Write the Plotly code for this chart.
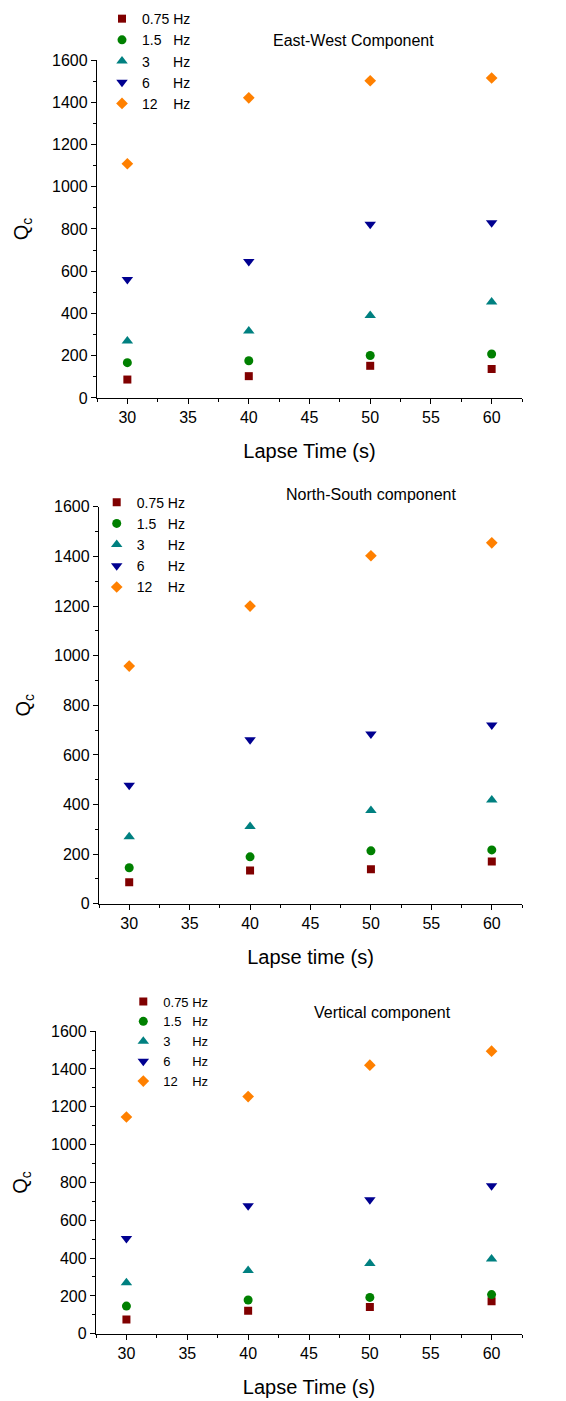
import plotly.graph_objects as go

# ---------------- data ----------------
lapse_time = [30, 40, 50, 60]
freq_labels = ["0.75\u00a0Hz", "1.5\u00a0\u00a0\u00a0Hz", "3\u00a0\u00a0\u00a0\u00a0\u00a0\u00a0Hz",
               "6\u00a0\u00a0\u00a0\u00a0\u00a0\u00a0Hz", "12\u00a0\u00a0\u00a0\u00a0Hz"]

ew_075 = [87, 103, 152, 137]
ew_15 = [167, 176, 201, 208]
ew_3 = [270, 317, 390, 454]
ew_6 = [561, 646, 822, 830]
ew_12 = [1109, 1421, 1502, 1515]

ns_075 = [86, 134, 139, 170]
ns_15 = [145, 189, 213, 217]
ns_3 = [270, 311, 376, 418]
ns_6 = [478, 661, 684, 720]
ns_12 = [958, 1200, 1403, 1455]

v_075 = [75, 122, 141, 172]
v_15 = [146, 178, 192, 207]
v_3 = [270, 334, 371, 395]
v_6 = [503, 676, 709, 782]
v_12 = [1146, 1254, 1420, 1494]

panel_titles = ["East-West Component", "North-South component", "Vertical component"]
x_titles = ["Lapse Time (s)", "Lapse time (s)", "Lapse Time (s)"]
y_title = "Q<sub>c</sub>"

# ---------------- style ----------------
colors = ["#800000", "#008000", "#008080", "#000090", "#FF8000"]
symbols = ["square", "circle", "triangle-up", "triangle-down", "diamond"]
sizes = [8, 9, 10, 10, 9]
FONT = "Arial, 'Liberation Sans', sans-serif"
W, H = 566, 1401

panels = [
    dict(series=[ew_075, ew_15, ew_3, ew_6, ew_12],
         xpx=(97, 522), ypx=(52.7, 394.7),
         legend=dict(x=102, y=-5, fs=14),
         title=(353, 33)),
    dict(series=[ns_075, ns_15, ns_3, ns_6, ns_12],
         xpx=(99, 522), ypx=(505, 906.7),
         legend=dict(x=96.7, y=484.5, fs=14),
         title=(371, 492.7)),
    dict(series=[v_075, v_15, v_3, v_6, v_12],
         xpx=(96, 522), ypx=(1035.7, 1342),
         legend=dict(x=123.3, y=990.5, fs=13),
         title=(382, 1016.7)),
]

fig = go.Figure()
layout = dict(width=W, height=H, margin=dict(l=0, r=0, t=0, b=0),
              paper_bgcolor="white", plot_bgcolor="white",
              font=dict(family=FONT, size=16, color="black"))
annotations = []

for p, panel in enumerate(panels):
    idx = "" if p == 0 else str(p + 1)
    xa, ya = "x" + idx, "y" + idx
    leg = "legend" if p == 0 else "legend" + str(p + 1)
    for k, vals in enumerate(panel["series"]):
        fig.add_trace(go.Scatter(
            x=lapse_time, y=vals, mode="markers", name=freq_labels[k],
            xaxis=xa, yaxis=ya, legend=leg,
            marker=dict(color=colors[k], symbol=symbols[k], size=sizes[k],
                        line=dict(width=0)),
        ))
    x0, x1 = panel["xpx"]
    y0, y1 = panel["ypx"]
    common = dict(showgrid=False, zeroline=False, showline=True, linecolor="black",
                  linewidth=1.3, ticks="outside", ticklen=5, tickwidth=1.2,
                  tickcolor="black", mirror=False,
                  tickfont=dict(family=FONT, size=16, color="black"))
    layout["xaxis" + idx] = dict(
        common, domain=[x0 / W, x1 / W], range=[27.5, 62.5], anchor=ya,
        tickmode="linear", tick0=30, dtick=5,
        minor=dict(ticks="outside", ticklen=3, tickwidth=1.2, tickcolor="black", dtick=2.5, tick0=27.5),
        title=dict(text=x_titles[p], font=dict(family=FONT, size=20, color="black"), standoff=18),
    )
    layout["yaxis" + idx] = dict(
        common, domain=[1 - y1 / H, 1 - y0 / H], range=[0, 1600], anchor=xa,
        tickmode="linear", tick0=0, dtick=200,
        minor=dict(ticks="outside", ticklen=3, tickwidth=1.2, tickcolor="black", dtick=100, tick0=0),
        title=dict(text=y_title, font=dict(family=FONT, size=20, color="black"), standoff=18),
    )
    lg = panel["legend"]
    layout[leg] = dict(x=lg["x"] / W, y=1 - lg["y"] / H, xanchor="left", yanchor="top",
                       bgcolor="rgba(0,0,0,0)", borderwidth=0,
                       font=dict(family=FONT, size=lg["fs"], color="black"))
    tx, ty = panel["title"]
    annotations.append(dict(text=panel_titles[p], x=tx / W, y=1 - ty / H, xref="paper", yref="paper",
                            xanchor="center", yanchor="middle", showarrow=False,
                            font=dict(family=FONT, size=16, color="black")))

layout["annotations"] = annotations
layout["showlegend"] = True
fig.update_layout(**layout)
fig.write_html("out.html")
